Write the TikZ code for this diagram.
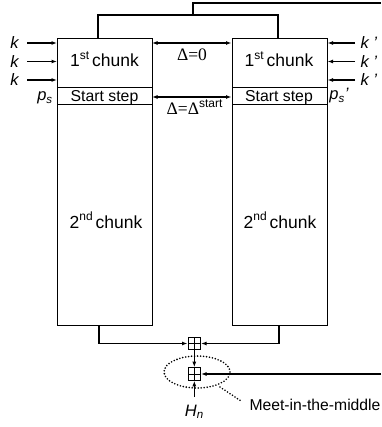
\documentclass[tikz,border=0pt]{standalone}
\usepackage{fontspec}
\setmainfont{Liberation Sans}
\newfontfamily\serifd{Liberation Serif}
\usetikzlibrary{arrows.meta,shapes.geometric}
\newcommand{\supst}[1]{\raisebox{0.42em}{\fontsize{12}{12}\selectfont #1}}
\begin{document}
\begin{tikzpicture}[x=1pt,y=-1pt,
  line width=1.1pt,
  every node/.style={font=\fontsize{16.5}{19}\selectfont, inner sep=0pt},
  box/.style={draw, anchor=north west, minimum width=95pt},
  chunk/.style={font=\fontsize{17.5}{21}\selectfont, anchor=base},
  stepf/.style={font=\fontsize{15.8}{19}\selectfont, anchor=base},
  deltaf/.style={font=\fontsize{17.5}{21}\selectfont, anchor=base},
  arr/.style={-{Latex[length=5.5pt,width=4pt]}},
  darr/.style={{Latex[length=5.5pt,width=4pt]}-{Latex[length=5.5pt,width=4pt]}},
  xorbox/.style={draw, minimum size=12.5pt, path picture={
      \draw[line width=0.9pt] (path picture bounding box.north) -- (path picture bounding box.south)
        (path picture bounding box.west) -- (path picture bounding box.east);}},
  lbl/.style={font=\fontsize{16.5}{19}\selectfont\itshape},
  dots/.style={line width=1.8pt, dash pattern=on 0pt off 3pt, line cap=round}
]
\useasboundingbox (0,0) rectangle (381,427);
% left column
\node[box, minimum height=49pt] (L1) at (57,38) {};
\node[box, minimum height=17pt] (Ls) at (57,87) {};
\node[box, minimum height=221pt] (L2) at (57,104) {};
\node[chunk] (L1t) at (104.5,66.5) {1\supst{st}\hspace{3pt}chunk};
\node[stepf] (Lst) at (104.5,101.5) {Start step};
\node[chunk] (L2t) at (106,228) {2\supst{nd}\hspace{3pt}chunk};
% right column
\node[box, minimum height=49pt] (R1) at (231.5,38) {};
\node[box, minimum height=17pt] (Rs) at (231.5,87) {};
\node[box, minimum height=221pt] (R2) at (231.5,104) {};
\node[chunk] (R1t) at (279,66.5) {1\supst{st}\hspace{3pt}chunk};
\node[stepf] (Rst) at (279,101.5) {Start step};
\node[chunk] (R2t) at (280,228) {2\supst{nd}\hspace{3pt}chunk};
% key inputs left
\node[lbl] (k1) at (14.5,43) {k};
\node[lbl] (k2) at (14.5,61.5) {k};
\node[lbl] (k3) at (14.5,80) {k};
\node[lbl] (ps) at (45,98) {p\textsubscript{s}};
\coordinate (k1s) at (27,43);
\coordinate (k2s) at (27,61.5);
\coordinate (k3s) at (27,80);
\draw[arr] (k1s) -- (k1s -| L1.west);
\draw[arr] (k2s) -- (k2s -| L1.west);
\draw[arr] (k3s) -- (k3s -| L1.west);
% key inputs right
\node[lbl, anchor=west] (r1) at (360,43) {k '};
\node[lbl, anchor=west] (r2) at (360,61.5) {k '};
\node[lbl, anchor=west] (r3) at (360,80) {k '};
\node[lbl] (psr) at (339,96) {p\textsubscript{s}'};
\coordinate (r1s) at (355,43);
\coordinate (r2s) at (355,61.5);
\coordinate (r3s) at (355,80);
\draw[arr] (r1s) -- (r1s -| R1.east);
\draw[arr] (r2s) -- (r2s -| R1.east);
\draw[arr] (r3s) -- (r3s -| R1.east);
% delta arrows
\coordinate (d0) at (152,43);
\coordinate (ds) at (152,97);
\draw[darr] (d0) -- (d0 -| R1.west);
\draw[darr] (ds) -- (ds -| Rs.west);
\node[deltaf] (d0t) at (192,60.5) {\serifd Δ=0};
\node[deltaf] (dst) at (194.5,114.5) {{\serifd Δ=Δ}\supst{start}};
% top connection
\coordinate (tl) at (98,38);
\coordinate (tr) at (278,38);
\coordinate (tout) at (381,3);
\draw (tl) -- (98,15) -- (278,15) -- (tr);
\draw (193,15) -- (193,3) -- (tout);
% bottom merge
\node[xorbox] (x1) at (194.3,343.5) {};
\node[xorbox] (x2) at (194.3,374) {};
\coordinate (bl) at (99,325);
\coordinate (br) at (279,325);
\draw[arr] (bl) -- (bl |- x1) -- (x1.west);
\draw[arr] (br) -- (br |- x1) -- (x1.east);
\draw[arr] (x1.south) -- (x2.north);
\coordinate (fin) at (381,374);
\draw[arr] (fin) -- (x2.east);
\node[lbl] (Hn) at (194.3,412) {H\textsubscript{n}};
\coordinate (hs) at (194.3,397);
\draw[arr] (hs) -- (x2.south);
% meet in the middle
\node[ellipse, draw, dots, minimum width=66pt, minimum height=32pt] (mitm) at (197,372) {};
\node[anchor=west, font=\fontsize{15.7}{18}\selectfont] (mt) at (249,405) {Meet-in-the-middle};
\coordinate (m1) at (220,387);
\coordinate (m2) at (241,401);
\draw[dots] (m1) -- (m2);
\end{tikzpicture}
\end{document}
